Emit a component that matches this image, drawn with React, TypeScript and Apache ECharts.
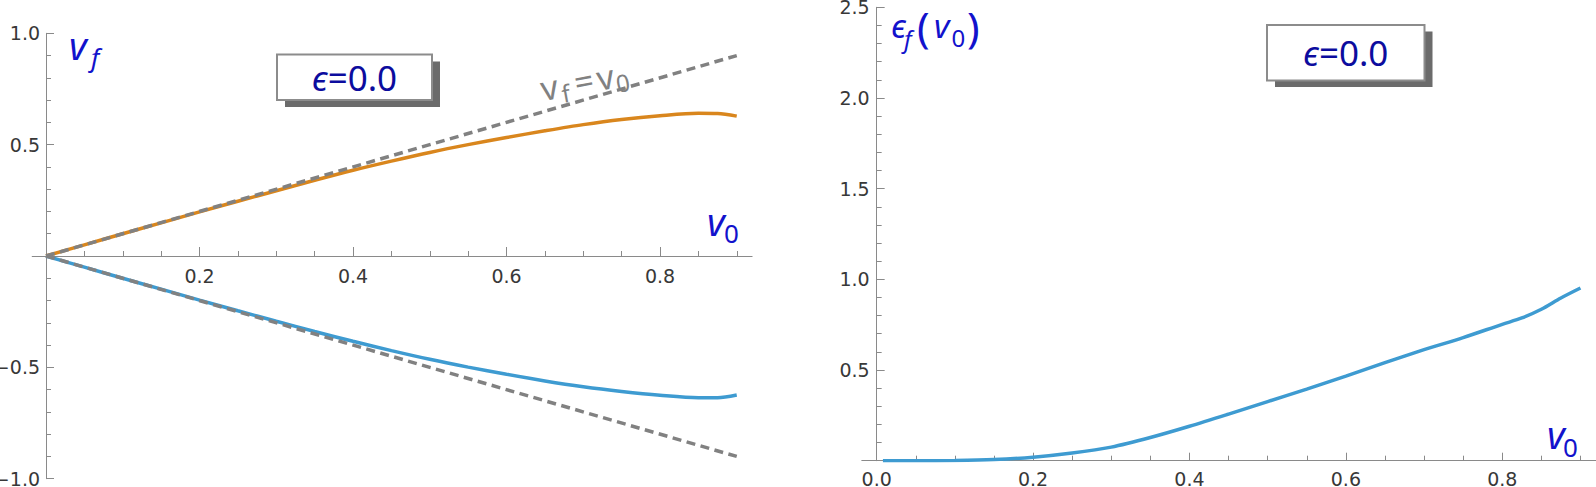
import React, { useEffect, useRef } from "react";
import * as echarts from "echarts";

// Left panel: final velocity of the two branches against the initial velocity v0
const V0_LEFT = [0, 0.05, 0.1, 0.15, 0.2, 0.25, 0.3, 0.35, 0.4, 0.45, 0.5, 0.55, 0.6, 0.65, 0.7, 0.75, 0.8, 0.85, 0.875, 0.9];
const VF_UPPER = [0, 0.05, 0.1, 0.149, 0.198, 0.246, 0.293, 0.34, 0.385, 0.426, 0.465, 0.5, 0.532, 0.562, 0.59, 0.613, 0.63, 0.641, 0.64, 0.628];
const VF_LOWER = [0, -0.05, -0.1, -0.149, -0.198, -0.246, -0.293, -0.339, -0.383, -0.425, -0.464, -0.499, -0.531, -0.561, -0.587, -0.608, -0.625, -0.636, -0.636, -0.624];

// Reference diagonals v_f = +v0 and v_f = -v0
const DIAG_V0 = [0, 0.9];
const DIAG_UP = [0, 0.9];
const DIAG_DOWN = [0, -0.9];

// Right panel: final energy against v0
const V0_RIGHT = [0.008, 0.05, 0.1, 0.15, 0.2, 0.25, 0.3, 0.35, 0.4, 0.45, 0.5, 0.55, 0.6, 0.65, 0.7, 0.75, 0.8, 0.825, 0.85, 0.875, 0.9];
const EPS_F = [0, 0, 0.001, 0.006, 0.019, 0.042, 0.075, 0.128, 0.19, 0.257, 0.326, 0.395, 0.466, 0.541, 0.612, 0.679, 0.752, 0.787, 0.835, 0.897, 0.952];

// Tick positions and labelled values
const L_X_MAJOR = [0.2, 0.4, 0.6, 0.8];
const L_X_MINOR = [0.05, 0.1, 0.15, 0.25, 0.3, 0.35, 0.45, 0.5, 0.55, 0.65, 0.7, 0.75, 0.85, 0.9];
const L_Y_MAJOR = [-1, -0.5, 0.5, 1];
const L_Y_MINOR = [-0.9, -0.8, -0.7, -0.6, -0.4, -0.3, -0.2, -0.1, 0.1, 0.2, 0.3, 0.4, 0.6, 0.7, 0.8, 0.9];
const R_X_LABELS = [0, 0.2, 0.4, 0.6, 0.8];
const R_X_MAJOR = [0.2, 0.4, 0.6, 0.8];
const R_X_MINOR = [0.05, 0.1, 0.15, 0.25, 0.3, 0.35, 0.45, 0.5, 0.55, 0.65, 0.7, 0.75, 0.85, 0.9];
const R_Y_MAJOR = [0.5, 1, 1.5, 2, 2.5];
const R_Y_MINOR = [0.1, 0.2, 0.3, 0.4, 0.6, 0.7, 0.8, 0.9, 1.1, 1.2, 1.3, 1.4, 1.6, 1.7, 1.8, 1.9, 2.1, 2.2, 2.3, 2.4];

const ORANGE = "#d9861d";
const BLUE = "#3e9bd1";
const DASH_GRAY = "#818181";
const AXIS_GRAY = "#8a8a8a";
const LABEL_GRAY = "#383838";
const LABEL_BLUE = "#1212cc";
const BOX_NAVY = "#0c0c9e";
const FONT = "Noto Sans";
const TICK_FONT = "DejaVu Sans";
const TICK_SIZE = 19;
const TICK_LINE = 15;

const fmt = (v: number) => (v < 0 ? "\u2212" : "") + Math.abs(v).toFixed(1);
const pairs = (xs: number[], ys: number[]) => xs.map((x, i) => [x, ys[i]]);

function makeAxis(o: { gridIndex: number; min: number; max: number; ticks: number[]; tickLen: number; line: boolean }) {
  return {
    type: "value",
    gridIndex: o.gridIndex,
    min: o.min,
    max: o.max,
    axisLine: {
      show: true,
      onZero: true,
      lineStyle: { color: AXIS_GRAY, width: 1, opacity: o.line ? 1 : 0 },
    },
    axisTick: {
      show: true,
      inside: true,
      length: o.tickLen,
      customValues: o.ticks,
      lineStyle: { color: AXIS_GRAY, width: 1 },
    },
    minorTick: { show: false },
    axisLabel: { show: false },
    splitLine: { show: false },
  };
}

function piece(text: string, x: number, y: number, size: number, italic: boolean, fill: string) {
  return {
    type: "text",
    x,
    y,
    z: 20,
    style: {
      text,
      fontFamily: FONT,
      fontSize: size,
      fontStyle: italic ? "italic" : "normal",
      fill,
      align: "left",
      verticalAlign: "middle",
    },
  };
}

function tickText(text: string, x: number, y: number, align: string, vAlign: string) {
  return {
    type: "text",
    x,
    y,
    z: 5,
    style: {
      text,
      fontFamily: TICK_FONT,
      fontSize: TICK_SIZE,
      lineHeight: TICK_LINE,
      fill: LABEL_GRAY,
      align,
      verticalAlign: vAlign,
    },
  };
}

function epsBox(x: number, y: number, w: number, h: number, dx: number, dy: number) {
  return [
    { type: "rect", z: 10, shape: { x: x + dx, y: y + dy, width: w, height: h }, style: { fill: "#6b6b6b" } },
    { type: "rect", z: 11, shape: { x, y, width: w, height: h }, style: { fill: "#ffffff", stroke: "#8c8c8c", lineWidth: 2 } },
    {
      type: "text",
      z: 12,
      x: x + w / 2,
      y: y + h / 2,
      style: {
        text: "{e|\u03f5}{n|=0.0}",
        align: "center",
        verticalAlign: "middle",
        rich: {
          e: { fontFamily: FONT, fontSize: 35, fontStyle: "italic", fill: BOX_NAVY },
          n: { fontFamily: FONT, fontSize: 35, fill: BOX_NAVY },
        },
      },
    },
  ];
}

export default function App() {
  const ref = useRef<HTMLDivElement>(null);

  useEffect(() => {
    if (!ref.current) return;
    const chart = echarts.init(ref.current, undefined, { renderer: "svg" });

    const leftRect = { left: 32.2, top: 33.3, width: 719.9, height: 445.4 };
    const rightRect = { left: 861.8, top: 7.3, width: 734.3, height: 453.4 };
    const gridBase = { containLabel: false, outerBoundsMode: "none", show: false };

    const option = {
      animation: false,
      grid: [
        { ...gridBase, ...leftRect },
        { ...gridBase, ...leftRect },
        { ...gridBase, ...rightRect },
        { ...gridBase, ...rightRect },
      ],
      xAxis: [
        makeAxis({ gridIndex: 0, min: -0.018, max: 0.92, ticks: L_X_MAJOR, tickLen: 9, line: true }),
        makeAxis({ gridIndex: 1, min: -0.018, max: 0.92, ticks: L_X_MINOR, tickLen: 5, line: false }),
        makeAxis({ gridIndex: 2, min: -0.019, max: 0.92, ticks: R_X_MAJOR, tickLen: 8, line: true }),
        makeAxis({ gridIndex: 3, min: -0.019, max: 0.92, ticks: R_X_MINOR, tickLen: 5, line: false }),
      ],
      yAxis: [
        makeAxis({ gridIndex: 0, min: -1, max: 1, ticks: L_Y_MAJOR, tickLen: 8, line: true }),
        makeAxis({ gridIndex: 1, min: -1, max: 1, ticks: L_Y_MINOR, tickLen: 5, line: false }),
        makeAxis({ gridIndex: 2, min: 0, max: 2.5, ticks: R_Y_MAJOR, tickLen: 8, line: true }),
        makeAxis({ gridIndex: 3, min: 0, max: 2.5, ticks: R_Y_MINOR, tickLen: 5, line: false }),
      ],
      series: [
        {
          type: "line",
          xAxisIndex: 0,
          yAxisIndex: 0,
          data: pairs(V0_LEFT, VF_UPPER),
          smooth: 0.3,
          showSymbol: false,
          lineStyle: { color: ORANGE, width: 3.5 },
          z: 3,
        },
        {
          type: "line",
          xAxisIndex: 0,
          yAxisIndex: 0,
          data: pairs(V0_LEFT, VF_LOWER),
          smooth: 0.3,
          showSymbol: false,
          lineStyle: { color: BLUE, width: 3.5 },
          z: 3,
        },
        {
          type: "line",
          xAxisIndex: 0,
          yAxisIndex: 0,
          data: pairs(DIAG_V0, DIAG_UP),
          showSymbol: false,
          lineStyle: { color: DASH_GRAY, width: 3.5, type: [9, 5.5] },
          z: 4,
        },
        {
          type: "line",
          xAxisIndex: 0,
          yAxisIndex: 0,
          data: pairs(DIAG_V0, DIAG_DOWN),
          showSymbol: false,
          lineStyle: { color: DASH_GRAY, width: 3.5, type: [9, 5.5] },
          z: 4,
        },
        {
          type: "line",
          xAxisIndex: 2,
          yAxisIndex: 2,
          data: pairs(V0_RIGHT, EPS_F),
          smooth: 0.3,
          showSymbol: false,
          lineStyle: { color: BLUE, width: 3.5 },
          z: 3,
        },
      ],
    };

    chart.setOption(option as any);

    // Tick labels placed through each panel's own axis scales
    const toPx = (idx: number, x: number, y: number) =>
      chart.convertToPixel({ xAxisIndex: idx, yAxisIndex: idx } as any, [x, y]) as number[];

    const tickLabels: any[] = [];
    L_X_MAJOR.forEach((v) => {
      const p = toPx(0, v, 0);
      tickLabels.push(tickText(fmt(v), p[0], p[1] + 12, "center", "top"));
    });
    L_Y_MAJOR.forEach((v) => {
      const p = toPx(0, 0, v);
      tickLabels.push(tickText(fmt(v), p[0] - 6, p[1], "right", "middle"));
    });
    R_X_LABELS.forEach((v) => {
      const p = toPx(2, v, 0);
      tickLabels.push(tickText(fmt(v), p[0], p[1] + 10.5, "center", "top"));
    });
    R_Y_MAJOR.forEach((v) => {
      const p = toPx(2, 0, v);
      tickLabels.push(tickText(fmt(v), p[0] - 7, p[1], "right", "middle"));
    });

    chart.setOption({
      graphic: [
        ...tickLabels,
        // left axis labels: v_f and v_0
        piece("v", 69, 45.3, 38, true, LABEL_BLUE),
        piece("f", 91, 56.6, 26, true, LABEL_BLUE),
        piece("v", 707, 221.3, 38, true, LABEL_BLUE),
        piece("0", 724, 233.2, 26, false, LABEL_BLUE),
        // right axis labels: eps_f(v_0) and v_0
        piece("\u03f5", 891, 25.5, 33, true, LABEL_BLUE),
        piece("f", 904, 38.5, 24, true, LABEL_BLUE),
        piece("(", 917, 26, 42, false, LABEL_BLUE),
        piece("v", 934, 25.5, 33, true, LABEL_BLUE),
        piece("0", 951.5, 37.5, 24, false, LABEL_BLUE),
        piece(")", 967, 26, 42, false, LABEL_BLUE),
        piece("v", 1547, 433.6, 38, true, LABEL_BLUE),
        piece("0", 1563, 446.6, 26, false, LABEL_BLUE),
        // annotation along the upper diagonal
        {
          type: "group",
          x: 543,
          y: 101.5,
          rotation: (10.5 * Math.PI) / 180,
          z: 20,
          children: [
            piece("v", 0, -13.2, 34, false, DASH_GRAY),
            piece("f", 20, -4.3, 24, false, DASH_GRAY),
            piece("=", 34, -13.2, 34, false, DASH_GRAY),
            piece("v", 57, -13.2, 34, false, DASH_GRAY),
            piece("0", 75, -4.3, 24, false, DASH_GRAY),
          ],
        },
        ...epsBox(277, 54.5, 155, 45.5, 8, 7),
        ...epsBox(1267, 25, 157.5, 55.5, 8, 6.5),
      ],
    } as any);

    return () => chart.dispose();
  }, []);

  return (
    <div
      ref={ref}
      style={{ position: "absolute", left: 0, top: 0, width: 1596, height: 487, background: "#ffffff" }}
    />
  );
}
